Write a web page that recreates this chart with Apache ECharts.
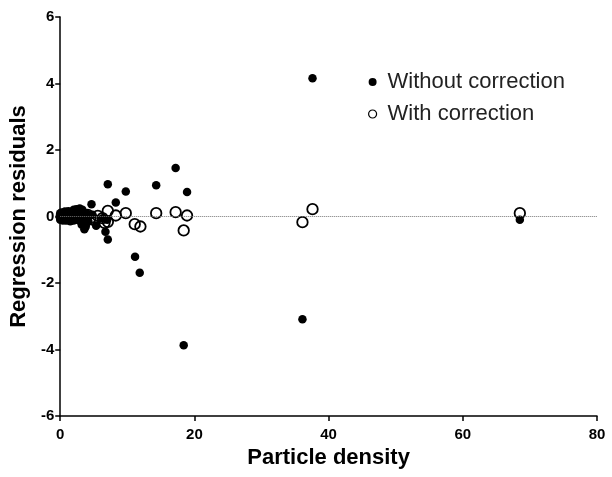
<!DOCTYPE html>
<html>
<head>
<meta charset="utf-8">
<script src="https://cdn.jsdelivr.net/npm/echarts@6/dist/echarts.min.js"></script>
<style>
  html, body { margin: 0; padding: 0; background: #fff; }
  #chart { width: 612px; height: 477px; }
</style>
</head>
<body>
<div id="chart"></div>
<script>
// residuals: [particle density, residual]
const withoutCorrection = [
  [0.0, 0.0], [0.0, -0.1], [0.0, 0.1], [0.1, 0.02], [0.2, 0.12], [0.3, -0.05],
  [0.4, -0.12], [0.5, 0.05], [0.6, -0.08], [0.7, 0.15], [0.8, 0.1], [0.9, -0.12],
  [1.0, -0.03], [1.1, 0.08], [1.2, 0.16], [1.3, -0.1], [1.5, 0.05], [1.5, -0.14],
  [1.7, 0.12], [1.9, -0.06], [2.0, -0.12], [2.0, 0.2], [2.1, 0.15], [2.3, 0.02],
  [2.4, 0.22], [2.6, 0.2], [2.8, -0.1], [2.9, 0.24], [3.0, 0.18], [3.2, -0.25],
  [3.3, 0.2], [3.4, 0.05], [3.5, -0.1], [3.6, -0.38], [3.8, -0.3], [3.9, 0.1],
  [4.2, -0.15], [4.66, 0.37], [4.8, 0.05], [5.35, -0.28], [6.3, -0.05], [6.74, -0.46],
  [7.09, 0.97], [7.09, -0.69], [7.0, -0.1], [8.28, 0.42], [9.77, 0.75], [11.15, -1.21],
  [11.85, -1.69], [14.3, 0.94], [17.2, 1.46], [18.4, -3.87], [18.9, 0.74],
  [36.1, -3.09], [37.6, 4.16], [68.5, -0.1]
]
const withCorrection = [
  [0.2, 0.0], [0.5, 0.05], [0.8, -0.05], [1.1, 0.03], [1.4, -0.02], [1.8, 0.05],
  [2.2, -0.04], [2.6, 0.06], [3.0, -0.08], [3.7, -0.16], [4.1, 0.05], [4.5, -0.05],
  [5.0, -0.1], [5.6, 0.02], [6.3, -0.05], [6.6, -0.19], [7.09, 0.17], [7.1, -0.16],
  [8.28, 0.03], [9.77, 0.1], [11.1, -0.23], [11.95, -0.3], [14.3, 0.1], [17.2, 0.13],
  [18.4, -0.42], [18.9, 0.03], [36.1, -0.17], [37.6, 0.22], [68.5, 0.1]
]
const seriesNames = ['Without correction', 'With correction']
const zeroLine = 0

const chart = echarts.init(document.getElementById('chart'))

const font = 'Liberation Sans, Arial, sans-serif'

const axisCommon = {
  splitLine: { show: false },
  axisLine: { onZero: false, lineStyle: { color: '#000', width: 1.5 } },
  axisTick: { length: 5, lineStyle: { color: '#000', width: 1.5 } },
  axisLabel: { color: '#000', fontSize: 15, fontWeight: 'bold', fontFamily: font },
  nameLocation: 'middle',
  nameTextStyle: { color: '#000', fontSize: 22, fontWeight: 'bold', fontFamily: font }
}

chart.setOption({
  animation: false,
  backgroundColor: '#fff',
  grid: { left: 59, right: 15, top: 17, bottom: 61 },
  legend: {
    orient: 'vertical',
    left: 363,
    top: 66,
    itemGap: 10,
    itemWidth: 8,
    itemHeight: 8,
    textStyle: {
      color: '#222', fontSize: 22, lineHeight: 22, fontFamily: font,
      padding: [0, 0, 0, 6]
    },
    data: [
      { name: seriesNames[0], icon: 'circle' },
      { name: seriesNames[1], icon: 'circle', itemStyle: { borderWidth: 1.2 } }
    ]
  },
  xAxis: Object.assign({}, axisCommon, {
    type: 'value', min: 0, max: 80, interval: 20,
    name: 'Particle density', nameGap: 28,
    axisLabel: Object.assign({}, axisCommon.axisLabel, { margin: 11 })
  }),
  yAxis: Object.assign({}, axisCommon, {
    type: 'value', min: -6, max: 6, interval: 2,
    name: 'Regression residuals', nameGap: 27,
    axisLabel: Object.assign({}, axisCommon.axisLabel, { margin: 6 })
  }),
  series: [
    {
      name: seriesNames[0],
      type: 'scatter',
      symbol: 'circle',
      symbolSize: 8.5,
      itemStyle: { color: '#000', opacity: 1 },
      data: withoutCorrection,
      markLine: {
        silent: true,
        symbol: 'none',
        label: { show: false },
        lineStyle: { color: '#777', type: 'dotted', width: 1 },
        data: [{ yAxis: zeroLine }]
      },
      z: 2
    },
    {
      name: seriesNames[1],
      type: 'scatter',
      symbol: 'circle',
      symbolSize: 10.5,
      itemStyle: { color: 'rgba(255,255,255,0)', borderColor: '#000', borderWidth: 1.8, opacity: 1 },
      data: withCorrection,
      z: 3
    }
  ]
})
</script>
</body>
</html>
